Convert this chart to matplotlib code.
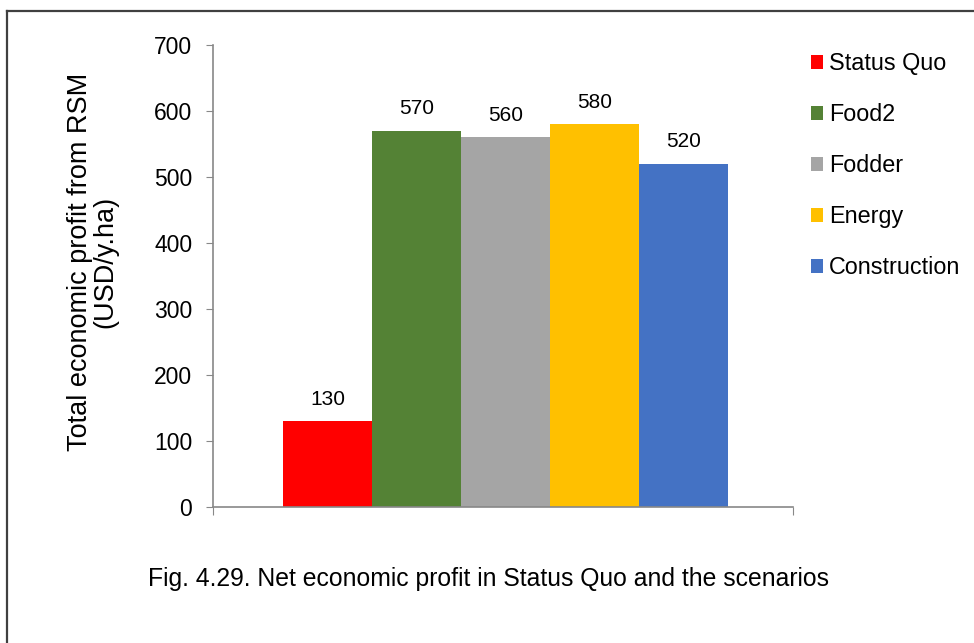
import matplotlib.pyplot as plt
from matplotlib.lines import Line2D
from matplotlib.patches import Patch

plt.rcParams['font.family'] = ['Liberation Sans', 'DejaVu Sans']

# Szenarien und Gewinn (USD/y.ha)
scenarios = ["Status Quo", "Food2", "Fodder", "Energy", "Construction"]
profit = [130, 570, 560, 580, 520]
colors = ["#FF0000", "#548235", "#A5A5A5", "#FFC000", "#4472C4"]
y_ticks = [0, 100, 200, 300, 400, 500, 600, 700]

fig = plt.figure(figsize=(9.74, 6.43), dpi=100)
ax = fig.add_axes([213 / 974, 1 - 507 / 643, 580 / 974, 462 / 643])

x = list(range(len(scenarios)))
ax.bar(x, profit, width=1.0, color=colors, zorder=2)

for xi, v in zip(x, profit):
    ax.annotate(str(v), (xi, v), xytext=(0, 9), textcoords="offset points",
                ha="center", va="bottom", fontsize=15)

ax.set_xlim(-0.5 - 0.787, len(scenarios) - 0.5 + 0.73)
ax.set_ylim(0, 700)
ax.set_yticks(y_ticks)
ax.set_xticks([ax.get_xlim()[0], ax.get_xlim()[1]])
ax.set_xticklabels([])
ax.tick_params(axis="y", labelsize=16.5, length=5, color="#888888", direction="out", pad=10)
ax.tick_params(axis="x", length=6, color="#888888", direction="out")

for side in ["top", "right"]:
    ax.spines[side].set_visible(False)
for side in ["left", "bottom"]:
    ax.spines[side].set_color("#888888")
    ax.spines[side].set_linewidth(1.2)

ax.set_ylabel("Total economic profit from RSM\n(USD/y.ha)", fontsize=19.5, linespacing=0.95)
ax.yaxis.set_label_coords(-0.164, 0.530)

handles = [Patch(facecolor=c, edgecolor="none") for c in colors]
fig.legend(handles, scenarios, loc="upper left", bbox_to_anchor=(802 / 974, 1 - 43 / 643),
           frameon=False, fontsize=16.8, handlelength=0.5, handleheight=0.5,
           handletextpad=0.25, labelspacing=1.2, borderaxespad=0)

fig.text(489 / 974, 1 - 579 / 643,
         "Fig. 4.29. Net economic profit in Status Quo and the scenarios",
         ha="center", va="center", fontsize=17.8)

# Rahmen oben und links
fig.add_artist(Line2D([7 / 974, 1], [1 - 11 / 643, 1 - 11 / 643], color="#404040", lw=1.6))
fig.add_artist(Line2D([7 / 974, 7 / 974], [0, 1 - 11 / 643], color="#404040", lw=1.6))

fig.savefig("out.png", dpi=100)
